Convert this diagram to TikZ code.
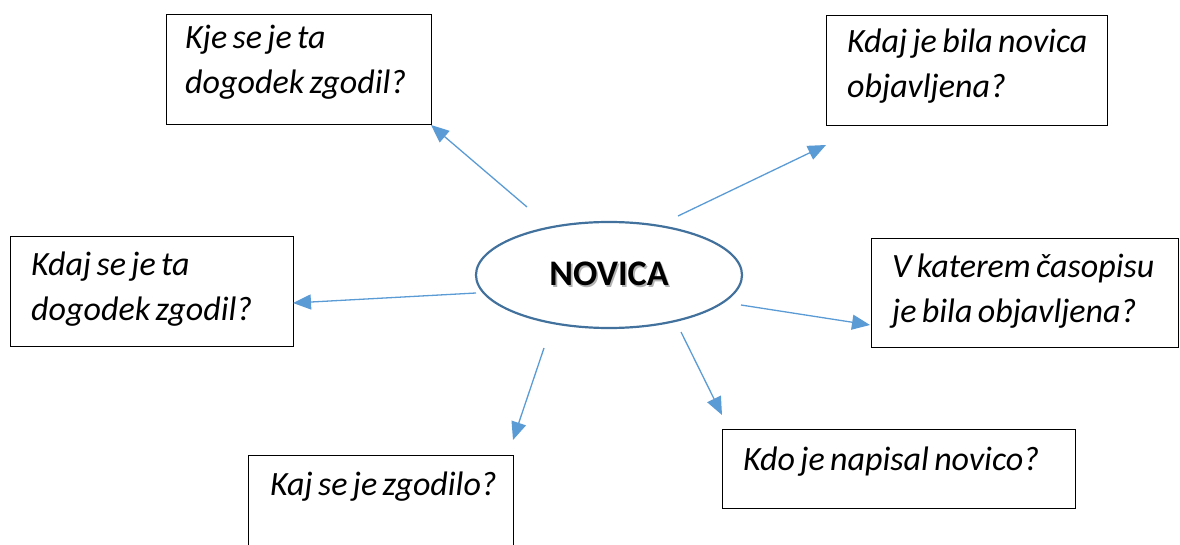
\documentclass[tikz,border=0pt]{standalone}
\usepackage{fontspec}
\setmainfont{Carlito}[WordSpace=0.7]
\usetikzlibrary{shapes.geometric,arrows.meta}

\definecolor{arrowblue}{HTML}{5B9BD5}
\definecolor{rimblue}{HTML}{41719C}
\newcommand{\shadowed}[1]{\makebox[0pt][l]{\hspace{1.6pt}\raisebox{-1.6pt}{\textcolor{black!30}{#1}}}#1}

\tikzset{
  qbox/.style={draw=black, line width=1.2pt, anchor=north west, inner sep=0pt},
  qtext/.style={anchor=base west, inner sep=0pt, align=left,
    font=\fontsize{34}{45}\selectfont\itshape},
  link/.style={draw=arrowblue, line width=1.3pt,
    -{Triangle[length=18pt,width=15pt]}}
}

\begin{document}
\begin{tikzpicture}[x=1pt,y=-1pt]
  \useasboundingbox (0,0) rectangle (1180,545);
  \clip (0,0) rectangle (1180,545);

  % centre
  \node[ellipse, draw=rimblue, line width=2.2pt, minimum width=266pt,
    minimum height=106pt, inner sep=0pt,
    font=\fontsize{36}{40}\selectfont\bfseries] (novica) at (609,275) {\shadowed{NOVICA}};

  % question boxes
  \node[qbox, minimum width=265pt, minimum height=110pt] (kje) at (166,14) {};
  \node[qbox, minimum width=281pt, minimum height=110pt] (objava) at (826,15) {};
  \node[qbox, minimum width=283pt, minimum height=110pt] (kdaj) at (10,236) {};
  \node[qbox, minimum width=307pt, minimum height=109pt] (casopis) at (871,238) {};
  \node[qbox, minimum width=265pt, minimum height=100pt] (kaj) at (248,455) {};
  \node[qbox, minimum width=353pt, minimum height=79pt] (kdo) at (722,429) {};

  % texts (base = last line)
  \node[qtext] (kje-t) at ([xshift=19pt,yshift=-80pt]kje.north west) {Kje se je ta\\dogodek zgodil?};
  \node[qtext] (objava-t) at ([xshift=21pt,yshift=-83pt]objava.north west) {Kdaj je bila novica\\objavljena?};
  \node[qtext] (kdaj-t) at ([xshift=21pt,yshift=-84pt]kdaj.north west) {Kdaj se je ta\\dogodek zgodil?};
  \node[qtext] (casopis-t) at ([xshift=21pt,yshift=-84pt]casopis.north west) {V katerem časopisu\\je bila objavljena?};
  \node[qtext] (kaj-t) at ([xshift=22pt,yshift=-40pt]kaj.north west) {Kaj se je zgodilo?};
  \node[qtext] (kdo-t) at ([xshift=21pt,yshift=-41pt]kdo.north west) {Kdo je napisal novico?};

  % arrow ends
  \coordinate (s1) at (527,207); \coordinate (t1) at (431,125);
  \coordinate (s2) at (678,216); \coordinate (t2) at (826,145);
  \coordinate (s3) at (476,293); \coordinate (t3) at (293,303);
  \coordinate (s4) at (741,305); \coordinate (t4) at (870,325);
  \coordinate (s5) at (544,348); \coordinate (t5) at (513,440);
  \coordinate (s6) at (681,332); \coordinate (t6) at (722,415);

  \foreach \i in {1,...,6}
    \draw[link] (s\i) -- (t\i);
\end{tikzpicture}
\end{document}
